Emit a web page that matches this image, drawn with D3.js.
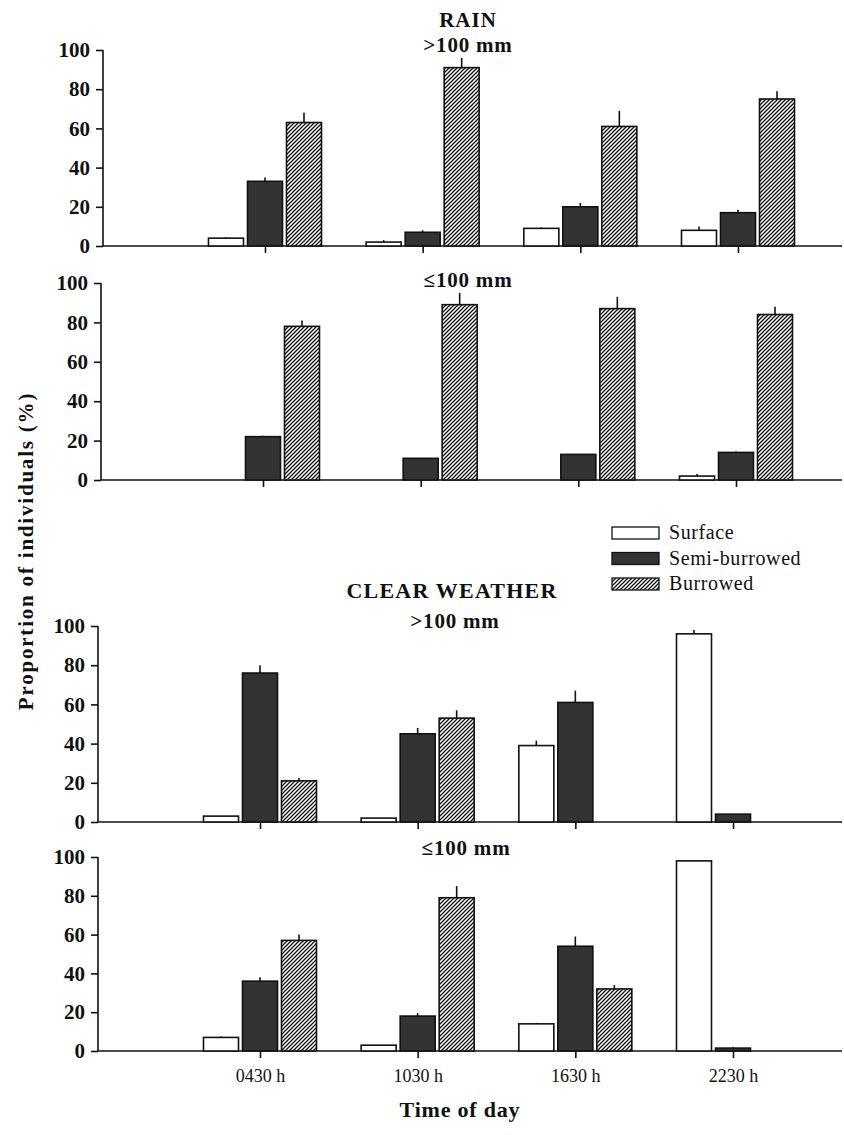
<!DOCTYPE html>
<html>
<head>
<meta charset="utf-8">
<script src="https://cdn.jsdelivr.net/npm/d3@7"></script>
<style>
  body { margin: 0; background: #fff; }
  text { font-family: "Liberation Serif", "DejaVu Serif", serif; fill: #111; }
</style>
</head>
<body>
<div id="chart"></div>
<script>
const width = 844, height = 1135;

// data
const times = ["0430 h", "1030 h", "1630 h", "2230 h"];
const series = ["Surface", "Semi-burrowed", "Burrowed"];
const yTicks = [0, 20, 40, 60, 80, 100];

// means (%) per series, order: surface, semi-burrowed, burrowed
const rainHigh = [[4, 2, 9, 8], [33, 7, 20, 17], [63, 91, 61, 75]];
const rainHighSE = [[0.5, 1, 0.5, 2], [2, 1, 2, 1.5], [5, 5, 8, 4]];
const rainLow = [[0, 0, 0, 2], [22, 11, 13, 14], [78, 89, 87, 84]];
const rainLowSE = [[0, 0, 0, 1], [0.5, 0, 0, 0.5], [3, 6, 6, 4]];
const clearHigh = [[3, 2, 39, 96], [76, 45, 61, 4], [21, 53, 0, 0]];
const clearHighSE = [[0, 0, 2.5, 2], [4, 3, 6, 0], [1.5, 4, 0, 0]];
const clearLow = [[7, 3, 14, 98], [36, 18, 54, 1.5], [57, 79, 32, 0]];
const clearLowSE = [[0.5, 0, 0.5, 0], [2, 1.5, 5, 0.5], [3, 6, 2, 0]];

const panels = [
  {vals: rainHigh, se: rainHighSE, label: ">100 mm", top: 50, bottom: 246, dx: 5, lx: 468, ly: 52},
  {vals: rainLow, se: rainLowSE, label: "\u2264100 mm", top: 283, bottom: 480, dx: 3, lx: 468, ly: 287},
  {vals: clearHigh, se: clearHighSE, label: ">100 mm", top: 626, bottom: 822, dx: 0, lx: 455, ly: 628},
  {vals: clearLow, se: clearLowSE, label: "\u2264100 mm", top: 857, bottom: 1051, dx: 0, lx: 466, ly: 855}
];

const svg = d3.select("#chart")
  .append("svg")
  .attr("width", width)
  .attr("height", height)
  .attr("viewBox", [0, 0, width, height]);

// diagonal hatch for burrowed
const hs = 4;
svg.append("defs")
  .append("pattern")
  .attr("id", "hatch")
  .attr("patternUnits", "userSpaceOnUse")
  .attr("width", hs)
  .attr("height", hs)
  .call(pt => pt.append("rect").attr("width", hs).attr("height", hs).attr("fill", "#fff"))
  .append("path")
  .attr("d", `M-1,1l2,-2M0,${hs}l${hs},-${hs}M${hs - 1},${hs + 1}l2,-2`)
  .attr("stroke", "#111")
  .attr("stroke-width", 1.3);

const fills = ["#fff", "#333", "url(#hatch)"];

const x = d3.scalePoint()
  .domain(times)
  .range([260, 733]);

const offset = d3.scalePoint()
  .domain(series)
  .range([-39, 39]);

const barW = 35;
const axisX = 98;

panels.forEach((p, pi) => {
  const g = svg.append("g").attr("transform", `translate(${p.dx},0)`);
  const y = d3.scaleLinear().domain([0, 100]).range([p.bottom, p.top]);

  // y axis
  const yAxis = g.append("g")
    .attr("transform", `translate(${axisX},0)`)
    .call(d3.axisLeft(y).tickValues(yTicks).tickSize(7).tickPadding(6));
  yAxis.select(".domain").attr("stroke", "#111").attr("stroke-width", 1.6)
    .attr("d", `M0,${p.top}V${p.bottom}`);
  yAxis.selectAll(".tick line").attr("stroke", "#111").attr("stroke-width", 1.6);
  yAxis.selectAll(".tick text")
    .attr("font-family", "Liberation Serif")
    .attr("font-size", 21)
    .attr("font-weight", "bold")
    .attr("fill", "#111");

  // x axis
  const xAxis = g.append("g")
    .attr("transform", `translate(0,${p.bottom})`)
    .call(d3.axisBottom(x).tickSize(7).tickPadding(11).tickFormat(pi === 3 ? d => d : ""));
  xAxis.select(".domain").attr("stroke", "#111").attr("stroke-width", 1.6)
    .attr("d", `M${axisX},0H${842 - p.dx}`);
  xAxis.selectAll(".tick line").attr("stroke", "#111").attr("stroke-width", 1.6);
  xAxis.selectAll(".tick text")
    .attr("font-family", "Liberation Serif")
    .attr("font-size", 18)
    .attr("fill", "#111");

  // bars with error bars
  series.forEach((s, si) => {
    const rows = times.map((t, ti) => ({t, v: p.vals[si][ti], e: p.se[si][ti]}))
      .filter(d => d.v > 0);

    g.append("g")
      .selectAll("line")
      .data(rows.filter(d => d.e > 0))
      .join("line")
      .attr("x1", d => x(d.t) + offset(s))
      .attr("x2", d => x(d.t) + offset(s))
      .attr("y1", d => y(d.v))
      .attr("y2", d => y(d.v + d.e))
      .attr("stroke", "#111")
      .attr("stroke-width", 1.6);

    g.append("g")
      .selectAll("rect")
      .data(rows)
      .join("rect")
      .attr("x", d => x(d.t) + offset(s) - barW / 2)
      .attr("width", barW)
      .attr("y", d => y(d.v))
      .attr("height", d => y(0) - y(d.v))
      .attr("fill", fills[si])
      .attr("stroke", "#111")
      .attr("stroke-width", 1.6);
  });

  svg.append("text")
    .attr("x", p.lx)
    .attr("y", p.ly)
    .attr("text-anchor", "middle")
    .attr("font-size", 21)
    .attr("font-weight", "bold")
    .attr("letter-spacing", 0.8)
    .text(p.label);
});

svg.append("text")
  .attr("x", 468).attr("y", 27)
  .attr("text-anchor", "middle")
  .attr("font-size", 21).attr("font-weight", "bold").attr("letter-spacing", 1)
  .text("RAIN");

svg.append("text")
  .attr("x", 452).attr("y", 598)
  .attr("text-anchor", "middle")
  .attr("font-size", 22).attr("font-weight", "bold").attr("letter-spacing", 1.2)
  .text("CLEAR WEATHER");

// legend
const legend = svg.append("g").attr("transform", "translate(612,527)");
series.forEach((s, i) => {
  const row = legend.append("g").attr("transform", `translate(0,${i * 25.5})`);
  row.append("rect")
    .attr("width", 47).attr("height", 12)
    .attr("fill", fills[i])
    .attr("stroke", "#111").attr("stroke-width", 1.3);
  row.append("text")
    .attr("x", 57).attr("y", 12)
    .attr("font-size", 20)
    .attr("letter-spacing", 0.6)
    .text(s);
});

// axis titles
svg.append("text")
  .attr("transform", "translate(33,551) rotate(-90)")
  .attr("text-anchor", "middle")
  .attr("font-size", 21).attr("font-weight", "bold").attr("letter-spacing", 1.8)
  .text("Proportion of individuals (%)");

svg.append("text")
  .attr("x", 460).attr("y", 1117)
  .attr("text-anchor", "middle")
  .attr("font-size", 22).attr("font-weight", "bold").attr("letter-spacing", 0.8)
  .text("Time of day");
</script>
</body>
</html>
